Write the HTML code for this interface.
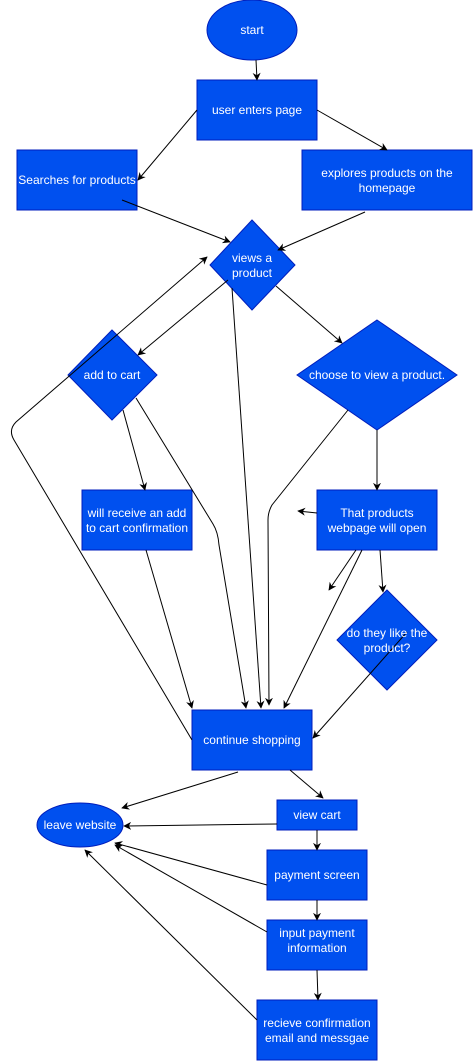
<!DOCTYPE html>
<html><head><meta charset="utf-8"><style>
body{margin:0;background:#fff}
svg{display:block}
text{font-family:"Liberation Sans",Helvetica,Arial,sans-serif;font-size:12px;fill:#fff;text-anchor:middle}
.n{fill:#0050ef;stroke:#001dbc;stroke-width:1}
.e{fill:none;stroke:#000;stroke-width:1;marker-end:url(#a)}
</style></head><body>
<svg width="473" height="1061" viewBox="0 0 473 1061" xmlns="http://www.w3.org/2000/svg">
<defs><marker id="a" viewBox="0 0 10 10" refX="9" refY="5" markerWidth="8" markerHeight="8" orient="auto" markerUnits="userSpaceOnUse"><path d="M0,0 L10,5 L0,10 L3,5 z" fill="#000"/></marker></defs>
<ellipse class="n" cx="252" cy="30" rx="45" ry="30"/>
<rect class="n" x="197" y="80" width="120" height="60"/>
<rect class="n" x="17" y="150" width="120" height="60"/>
<rect class="n" x="302" y="150" width="170" height="60"/>
<polygon class="n" points="252,220 295,265 252,310 210,265"/>
<polygon class="n" points="112,330 157,375 112,420 68,375"/>
<polygon class="n" points="377,320 457,375 377,430 297,375"/>
<rect class="n" x="82" y="490" width="110" height="60"/>
<rect class="n" x="317" y="490" width="120" height="60"/>
<polygon class="n" points="387,590 437,640 387,690 337,640"/>
<rect class="n" x="192" y="710" width="120" height="60"/>
<ellipse class="n" cx="80" cy="825" rx="43" ry="22"/>
<rect class="n" x="277" y="800" width="80" height="30"/>
<rect class="n" x="267" y="850" width="100" height="50"/>
<rect class="n" x="267" y="920" width="100" height="50"/>
<rect class="n" x="257" y="1000" width="120" height="60"/>
<g>
<path class="e" d="M256,60 L257,80"/>
<path class="e" d="M197,110 L138,180"/>
<path class="e" d="M317,110 L387,150"/>
<path class="e" d="M122,200 L230,242"/>
<path class="e" d="M365,212 L278,250"/>
<path class="e" d="M228,280 L138,355"/>
<path class="e" d="M192,740 L14,440 Q8,430 16,422 L207,257"/>
<path class="e" d="M232,288 L261,708"/>
<path class="e" d="M276,286 L342,343"/>
<path class="e" d="M123,410 L145,490"/>
<path class="e" d="M136,398 L213,524 Q218,532 219,545 L246,708"/>
<path class="e" d="M146,550 L192,708"/>
<path class="e" d="M348,410 L272,505 Q268,512 268,520 L269,705"/>
<path class="e" d="M377,430 L377,490"/>
<path class="e" d="M317,513 L298,511"/>
<path class="e" d="M356,550 L329,590"/>
<path class="e" d="M362,550 L284,708"/>
<path class="e" d="M380,550 L383,592"/>
<path class="e" d="M407,632 L313,738"/>
<path class="e" d="M238,772 L122,808"/>
<path class="e" d="M290,770 L323,798"/>
<path class="e" d="M277,824 L124,826"/>
<path class="e" d="M317,830 L317,850"/>
<path class="e" d="M267,885 L115,843"/>
<path class="e" d="M317,900 L317,920"/>
<path class="e" d="M267,932 L115,845"/>
<path class="e" d="M317,970 L318,1000"/>
<path class="e" d="M257,1020 L85,850"/>
</g>
<text x="252" y="34">start</text>
<text x="257" y="114">user enters page</text>
<text x="77" y="184">Searches for products</text>
<text x="387" y="177">explores products on the</text>
<text x="387" y="192">homepage</text>
<text x="252" y="262">views a</text>
<text x="252" y="277">product</text>
<text x="112" y="379">add to cart</text>
<text x="377" y="379">choose to view a product.</text>
<text x="137" y="517">will receive an add</text>
<text x="137" y="532">to cart confirmation</text>
<text x="377" y="517">That products</text>
<text x="377" y="532">webpage will open</text>
<text x="387" y="637">do they like the</text>
<text x="387" y="652">product?</text>
<text x="252" y="744">continue shopping</text>
<text x="80" y="829">leave website</text>
<text x="317" y="819">view cart</text>
<text x="317" y="879">payment screen</text>
<text x="317" y="937">input payment</text>
<text x="317" y="952">information</text>
<text x="317" y="1027">recieve confirmation</text>
<text x="317" y="1042">email and messgae</text>
</svg>
</body></html>
